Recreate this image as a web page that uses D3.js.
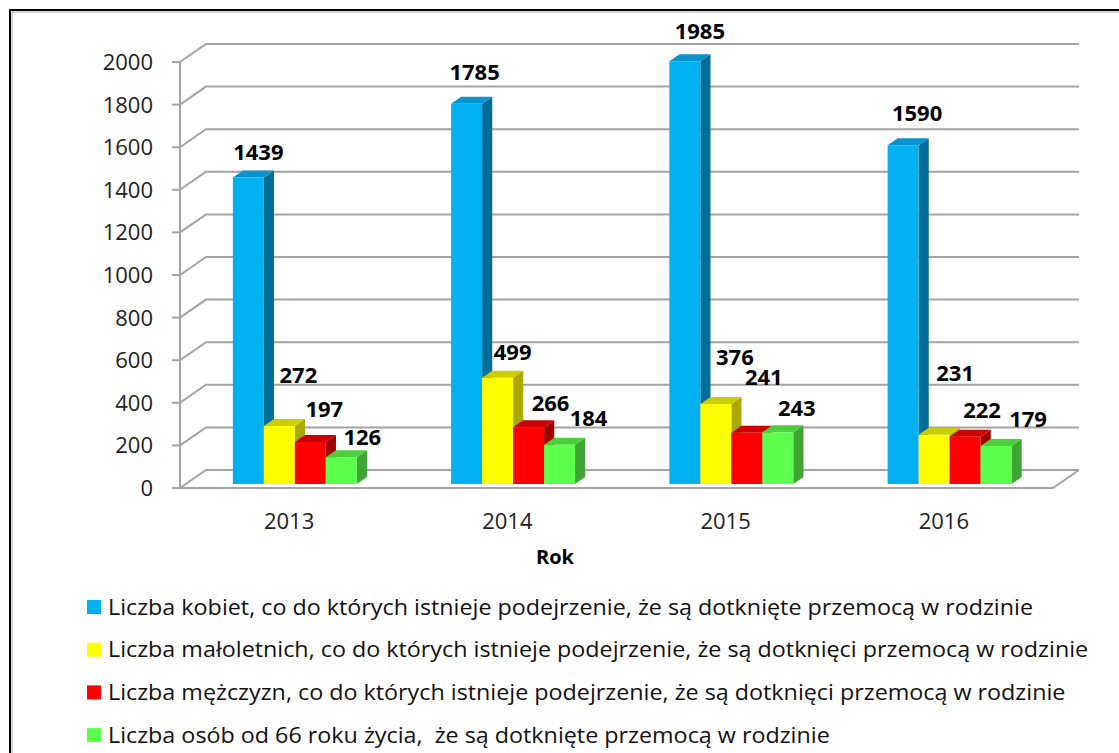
<!DOCTYPE html>
<html>
<head>
<meta charset="utf-8">
<script src="https://cdn.jsdelivr.net/npm/d3@7.9.0/dist/d3.min.js"></script>
<style>
  html, body { margin: 0; padding: 0; background: #fff; }
  svg { display: block; }
  text { font-family: "Open Sans", sans-serif; white-space: pre; }
</style>
</head>
<body>
<svg id="chart" width="1119" height="753"></svg>
<script>
// --- DATA ---
const years = ["2013", "2014", "2015", "2016"];
const seriesNames = [
  "Liczba kobiet, co do których istnieje podejrzenie, że są dotknięte przemocą w rodzinie",
  "Liczba małoletnich, co do których istnieje podejrzenie, że są dotknięci przemocą w rodzinie",
  "Liczba mężczyzn, co do których istnieje podejrzenie, że są dotknięci przemocą w rodzinie",
  "Liczba osób od 66 roku życia,  że są dotknięte przemocą w rodzinie"
];
const kobiety = [1439, 1785, 1985, 1590];
const maloletni = [272, 499, 376, 231];
const mezczyzni = [197, 266, 241, 222];
const seniorzy = [126, 184, 243, 179];
const yTicks = [0, 200, 400, 600, 800, 1000, 1200, 1400, 1600, 1800, 2000];
const axisTitle = "Rok";

// --- STYLE / LAYOUT ---
const colors = [
  { front: "#00b0f0", top: "#0a92cc", side: "#006e98" },
  { front: "#ffff00", top: "#cccc00", side: "#a9a900" },
  { front: "#ff0000", top: "#cc0000", side: "#a00000" },
  { front: "#5cff4c", top: "#4ccf3e", side: "#3fa535" }
];
// label nudges (px) from the default spot above each bar, per series / year
const labelNudge = [
  [[-2, -1], [-4, -8], [3, -6], [2, -8]],
  [[7, -27], [3, -2], [7, -23], [9, -38]],
  [[2, -9], [10, 0], [5, -32], [5, -3]],
  [[9, 4], [17, -3], [7, 0], [20, -3]]
];

const series = [kobiety, maloletni, mezczyzni, seniorzy];
const svg = d3.select("#chart");

const DX = 26, DY = 18;          // depth of the 3D box
const t0 = 0.22, t1 = 0.61;      // bar front/back depth
const left = 180, right = 1053;

const y = d3.scaleLinear().domain([0, 2000]).range([488, 62]);
const x = d3.scaleBand().domain(years).range([left, right]);
const groupW = x.bandwidth() * 0.568;
const xs = d3.scaleBand().domain(d3.range(series.length)).range([0, groupW]);

const P = (xf, v, t) => [xf + t * DX, y(v) - t * DY];
const poly = pts => pts.map(p => p.join(",")).join(" ");

// border
svg.append("rect").attr("x", 10).attr("y", 10).attr("width", 1300).attr("height", 900)
  .attr("fill", "none").attr("stroke", "#000").attr("stroke-width", 2);
svg.append("rect").attr("x", 12).attr("y", 12).attr("width", 1300).attr("height", 900)
  .attr("fill", "none").attr("stroke", "#bbb").attr("stroke-width", 1.2);

const grid = svg.append("g").attr("fill", "none").attr("stroke", "#a3a3a3").attr("stroke-width", 2);

// walls: side diagonals and back gridlines
yTicks.forEach(v => {
  const a = P(left, v, 0), b = P(left, v, 1), c = P(right, v, 1);
  grid.append("polyline").attr("points", poly([a, b, c]));
});
// floor front & right edges
grid.append("polyline").attr("points", poly([P(left, 0, 0), P(right, 0, 0), P(right, 0, 1)]));
// front vertical axis
grid.append("line").attr("x1", left).attr("x2", left).attr("y1", y(2000)).attr("y2", y(0));
// tick marks
yTicks.forEach(v => {
  grid.append("line").attr("x1", left - 8).attr("x2", left).attr("y1", y(v)).attr("y2", y(v));
});

// y tick labels
svg.append("g").selectAll("text").data(yTicks).join("text")
  .attr("x", 153).attr("y", d => y(d) + 7.9)
  .attr("text-anchor", "end").attr("font-size", 22).attr("fill", "#222")
  .text(d => d);

// bars
const bars = svg.append("g");
years.forEach((yr, k) => {
  series.forEach((vals, i) => {
    const v = vals[k];
    const x0 = x(yr) + (x.bandwidth() - groupW) / 2 + xs(i);
    const x1 = x0 + xs.bandwidth();
    const c = colors[i];
    // side
    bars.append("polygon").attr("fill", c.side)
      .attr("points", poly([P(x1, 0, t0), P(x1, 0, t1), P(x1, v, t1), P(x1, v, t0)]));
    // top
    bars.append("polygon").attr("fill", c.top)
      .attr("points", poly([P(x0, v, t0), P(x1, v, t0), P(x1, v, t1), P(x0, v, t1)]));
    // front
    bars.append("polygon").attr("fill", c.front)
      .attr("points", poly([P(x0, 0, t0), P(x1, 0, t0), P(x1, v, t0), P(x0, v, t0)]));
  });
});

// value labels
const labels = svg.append("g");
years.forEach((yr, k) => {
  series.forEach((vals, i) => {
    const v = vals[k];
    const x0 = x(yr) + (x.bandwidth() - groupW) / 2 + xs(i);
    const top = P(x0 + xs.bandwidth() / 2, v, t0);
    const n = labelNudge[i][k];
    labels.append("text")
      .attr("x", top[0] + 12 + n[0])
      .attr("y", top[1] - 24 + n[1] + 7.9)
      .attr("text-anchor", "middle").attr("font-size", 22).attr("font-weight", "bold")
      .attr("fill", "#000").text(v);
  });
});

// category labels
svg.append("g").selectAll("text").data(years).join("text")
  .attr("x", d => x(d) + x.bandwidth() / 2).attr("y", 529)
  .attr("text-anchor", "middle").attr("font-size", 22).attr("fill", "#222")
  .text(d => d);

svg.append("text").attr("x", 555).attr("y", 564).attr("text-anchor", "middle")
  .attr("font-size", 20).attr("font-weight", "bold").attr("fill", "#000").text(axisTitle);

// legend (text stretched a bit to match the wide original face)
const legend = svg.append("g");
seriesNames.forEach((name, i) => {
  const cy = 607 + i * 42.7;
  legend.append("rect").attr("x", 87).attr("y", cy - 7).attr("width", 14).attr("height", 14)
    .attr("fill", colors[i].front);
  legend.append("text")
    .attr("transform", `translate(108,${cy + 7.5}) scale(1.11,1)`)
    .attr("font-size", 21).attr("fill", "#111").text(name);
});
</script>
</body>
</html>
